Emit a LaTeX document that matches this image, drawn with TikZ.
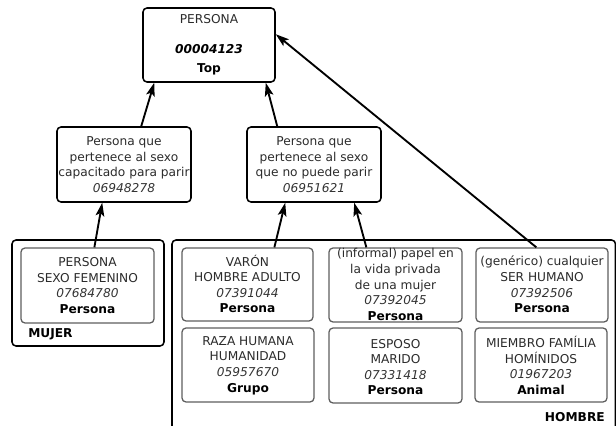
\documentclass[tikz,border=0pt]{standalone}
\usepackage{fontspec}
\setmainfont{DejaVu Sans}
\usetikzlibrary{arrows.meta,calc}
\definecolor{txtgray}{HTML}{2B2B2B}
\definecolor{numgray}{HTML}{333333}
\definecolor{innergray}{HTML}{5E5E5E}
\newcommand\numtxt[1]{{\color{numgray}\itshape #1}}
\newcommand\cattxt[1]{{\color{black}\bfseries #1}}
\tikzset{
  sz/.style 2 args={minimum width=#1*0.75pt, minimum height=#2*0.75pt},
  outerbox/.style={draw=black, line width=1.15pt, rounded corners=3pt, inner sep=0pt},
  innerbox/.style={draw=innergray, line width=0.95pt, rounded corners=3pt, inner sep=0pt},
  boxtext/.style={align=center, inner sep=0pt, text=txtgray, font=\fontsize{9.15}{11.7}\selectfont},
  lbl/.style={inner sep=0pt, font=\fontsize{9.15}{11}\selectfont\bfseries, text=black},
  isa/.style={-{Stealth[length=10pt,width=6.5pt,inset=2.2pt]}, line width=1.4pt, black},
}
\begin{document}
\begin{tikzpicture}[x=0.75pt,y=-0.75pt]
\useasboundingbox (0,0) rectangle (616,425);
\clip (0,0) rectangle (616,425);
% containers
\node[outerbox, sz={152}{106}] (mujerc) at (88,293) {};
\node[outerbox, sz={443.5}{200}] (hombrec) at (393.75,340) {};
\node[lbl, anchor=west] (mujerl) at (28,334) {MUJER};
\node[lbl, anchor=east] (hombrel) at (605,417) {HOMBRE};
% top
\node[outerbox, sz={132}{74}] (top) at (209,45) {};
\node[boxtext] (topt) at (209,45) {PERSONA\\[11pt]{\color{black}\bfseries\itshape 00004123}\\[2.5pt]\cattxt{Top}};
% middle
\node[outerbox, sz={134}{75}] (lm) at (124,164.5) {};
\node[boxtext] (lmt) at (124,164.5) {Persona que\\pertenece al sexo\\capacitado para parir\\\numtxt{06948278}};
\node[outerbox, sz={134}{75}] (mm) at (314,164.5) {};
\node[boxtext] (mmt) at (314,164.5) {Persona que\\pertenece al sexo\\que no puede parir\\\numtxt{06951621}};
% mujer inner
\node[innerbox, sz={133}{75}] (fem) at (87.5,285.5) {};
\node[boxtext] (femt) at (87.5,285.5) {PERSONA\\SEXO FEMENINO\\\numtxt{07684780}\\\cattxt{Persona}};
% hombre inner row 1
\node[innerbox, sz={131}{73}] (varon) at (247.5,284.5) {};
\node[boxtext] (varont) at (247.5,284) {VARÓN\\HOMBRE ADULTO\\\numtxt{07391044}\\\cattxt{Persona}};
\node[innerbox, sz={133}{74}] (informal) at (395.5,285) {};
\node[boxtext] (informalt) at (395.5,284.5) {(informal) papel en\\la vida privada\\de una mujer\\\numtxt{07392045}\\\cattxt{Persona}};
\node[innerbox, sz={132}{74}] (generico) at (542,285) {};
\node[boxtext] (genericot) at (542,284.5) {(genérico) cualquier\\SER HUMANO\\\numtxt{07392506}\\\cattxt{Persona}};
% hombre inner row 2
\node[innerbox, sz={132}{74}] (raza) at (248,365) {};
\node[boxtext] (razat) at (248,365.5) {RAZA HUMANA\\HUMANIDAD\\\numtxt{05957670}\\\cattxt{Grupo}};
\node[innerbox, sz={133}{75}] (esposo) at (395.5,365.5) {};
\node[boxtext] (esposot) at (395.5,367) {ESPOSO\\MARIDO\\\numtxt{07331418}\\\cattxt{Persona}};
\node[innerbox, sz={132}{74}] (miembro) at (541,365) {};
\node[boxtext] (miembrot) at (541,365.5) {MIEMBRO FAMÍLIA\\HOMÍNIDOS\\\numtxt{01967203}\\\cattxt{Animal}};
% arrows
\draw[isa] ($(lm.north west)+(85,0)$) -- ($(top.south west)+(12,0)$);
\draw[isa] ($(mm.north west)+(31,0)$) -- ($(top.south east)+(-10,0)$);
\draw[isa] ($(fem.north west)+(74,0)$) -- ($(lm.south west)+(46,0)$);
\draw[isa] ($(varon.north west)+(93,0)$) -- ($(mm.south west)+(39,0)$);
\draw[isa] ($(informal.north west)+(38,0)$) -- ($(mm.south west)+(108,0)$);
\draw[isa] ($(generico.north west)+(61,0)$) -- ($(top.north east)+(0,27)$);
\end{tikzpicture}
\end{document}
